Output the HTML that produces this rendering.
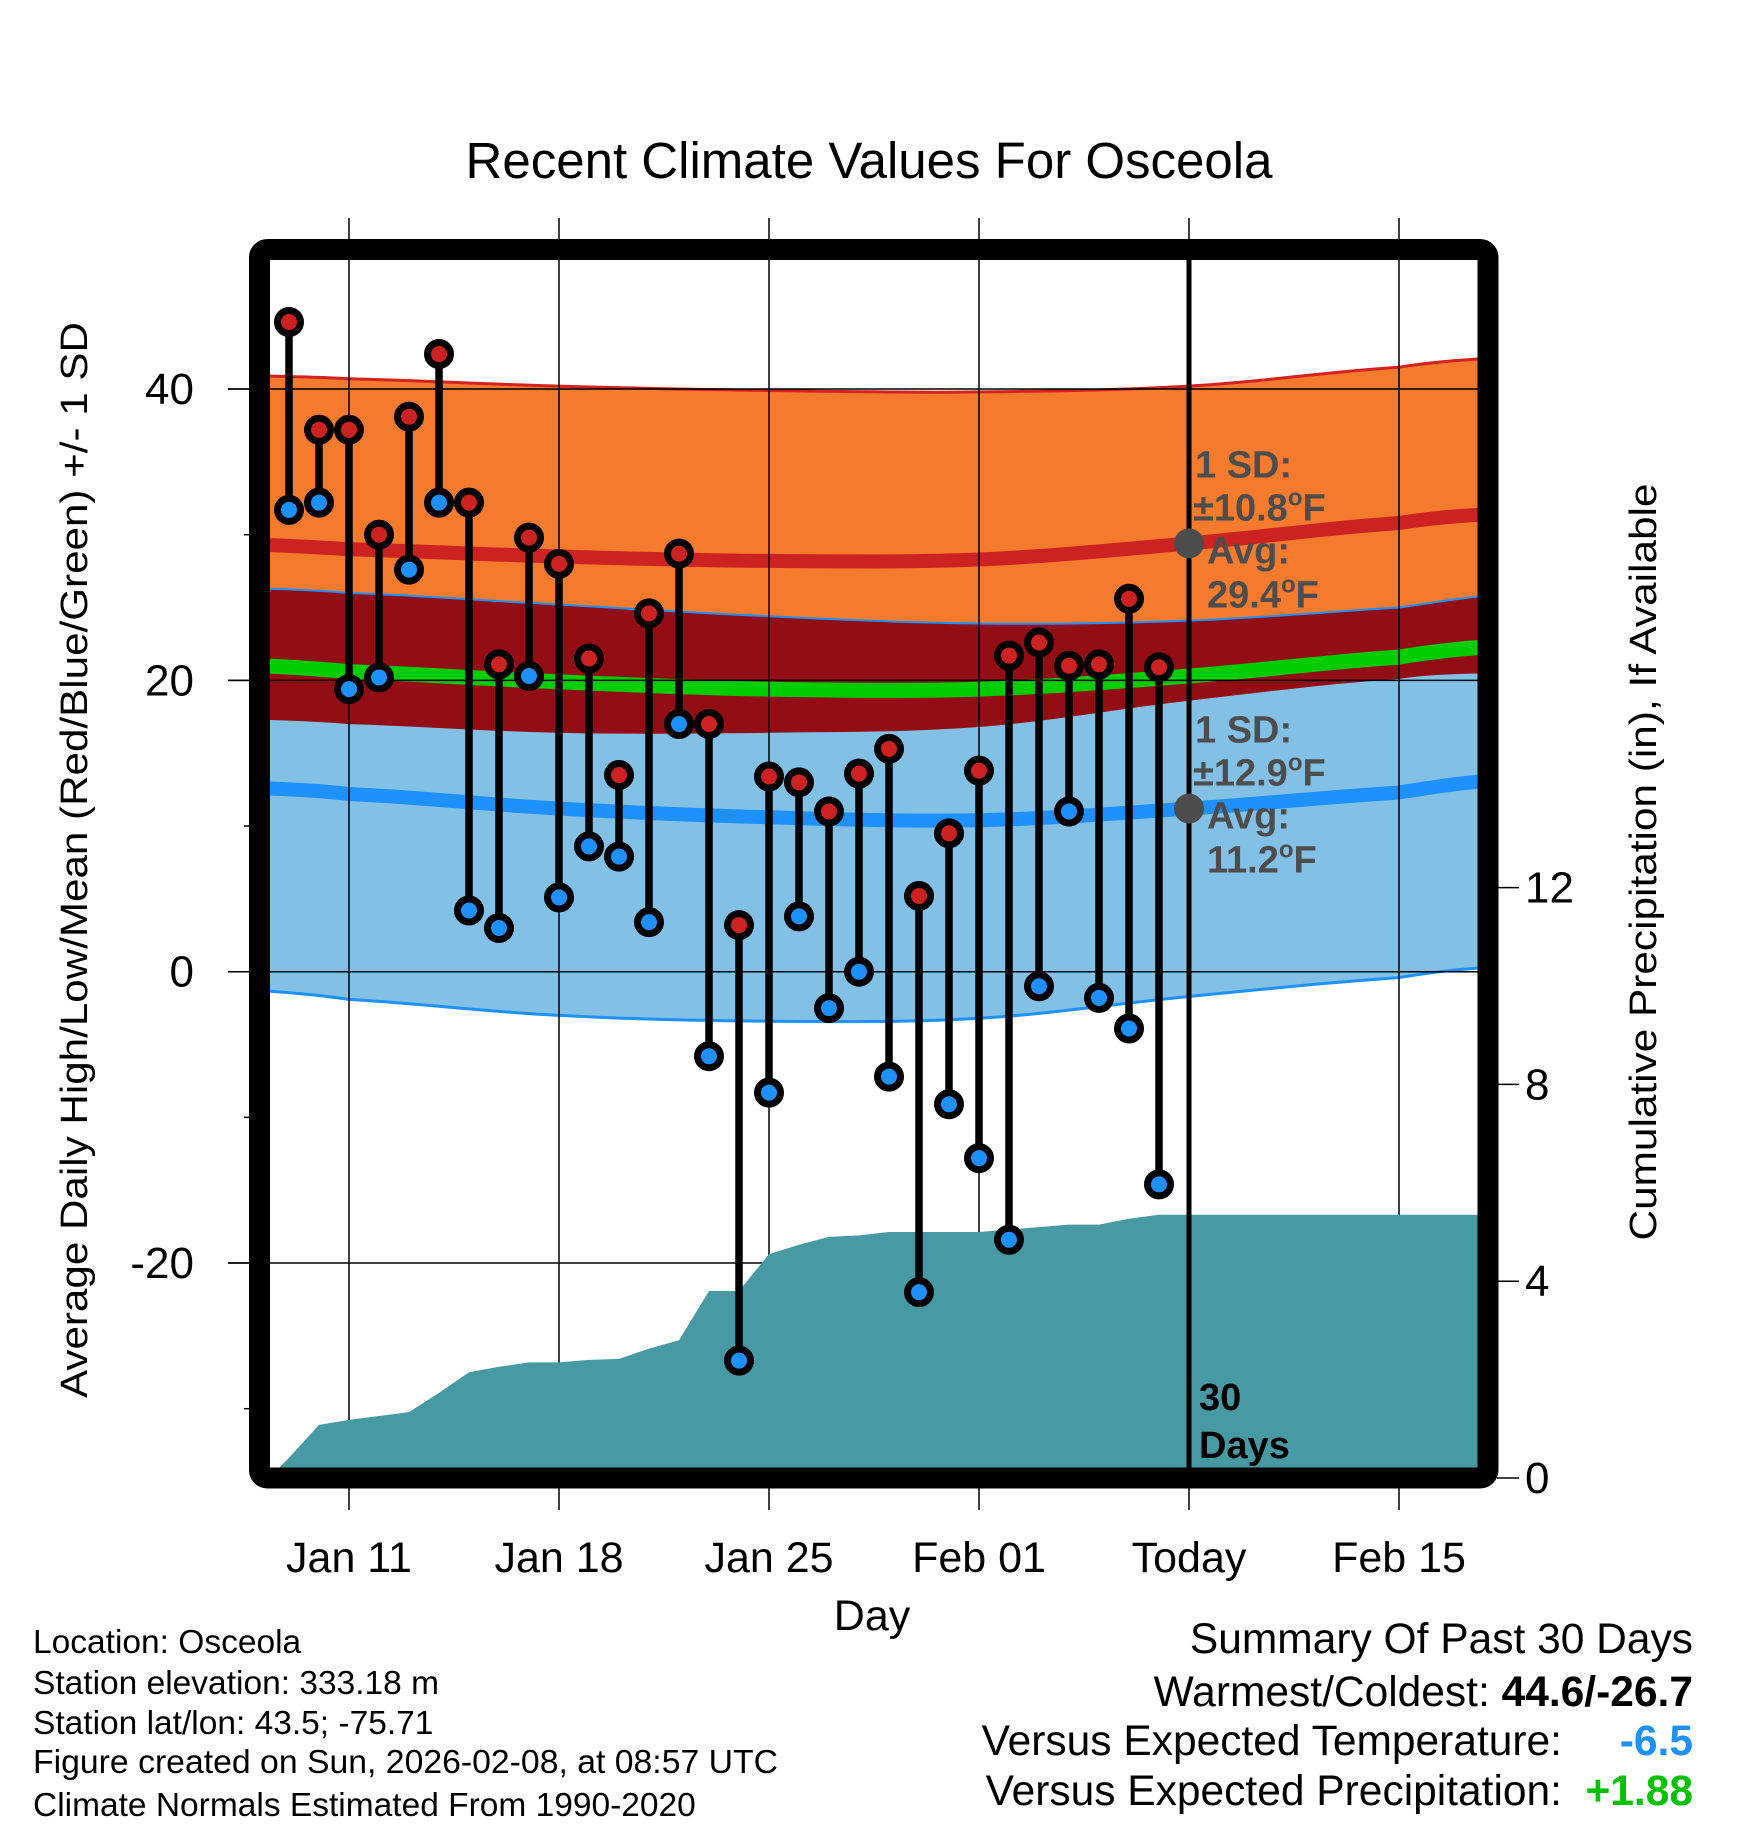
<!DOCTYPE html>
<html><head><meta charset="utf-8"><style>
html,body{margin:0;padding:0;background:#fff}
svg{display:block}
text{font-family:"Liberation Sans",sans-serif}
</style></head><body>
<svg id="chart" width="1748" height="1828" viewBox="0 0 1748 1828" xmlns="http://www.w3.org/2000/svg">
<defs><clipPath id="plotclip"><rect x="270" y="260" width="1208" height="1208"/></clipPath></defs>
<g id="bands" clip-path="url(#plotclip)"></g>
<g id="grid"></g>
<g id="precip" clip-path="url(#plotclip)"></g>
<g id="todayg"></g>
<g id="marks"></g>
<g id="annot"></g>
<rect x="259.5" y="249.5" width="1228.5" height="1228.5" rx="8" fill="none" stroke="#000" stroke-width="21"/>
<g id="axes"></g>
<text x="869" y="178" font-size="51" text-anchor="middle">Recent Climate Values For Osceola</text>
<text x="872" y="1630" font-size="43" text-anchor="middle">Day</text>
<text transform="translate(87,860) rotate(-90)" font-size="38" text-anchor="middle" textLength="1076" lengthAdjust="spacingAndGlyphs">Average Daily High/Low/Mean (Red/Blue/Green) +/- 1 SD</text>
<text transform="translate(1656,862) rotate(-90)" font-size="38" text-anchor="middle" textLength="757" lengthAdjust="spacingAndGlyphs">Cumulative Precipitation (in), If Available</text>
<g font-size="33.5">
<text x="33" y="1653">Location: Osceola</text>
<text x="33" y="1694">Station elevation: 333.18 m</text>
<text x="33" y="1734">Station lat/lon: 43.5; -75.71</text>
<text x="33" y="1773" textLength="745" lengthAdjust="spacingAndGlyphs">Figure created on Sun, 2026-02-08, at 08:57 UTC</text>
<text x="33" y="1816">Climate Normals Estimated From 1990-2020</text>
</g>
<g font-size="42.5" text-anchor="end">
<text x="1693" y="1653">Summary Of Past 30 Days</text>
<text x="1693" y="1706">Warmest/Coldest: <tspan font-weight="bold">44.6/-26.7</tspan></text>
<text x="1562" y="1755">Versus Expected Temperature:</text>
<text x="1693" y="1755" font-weight="bold" fill="#1e90ff">-6.5</text>
<text x="1562" y="1805">Versus Expected Precipitation:</text>
<text x="1693" y="1805" font-weight="bold" fill="#00c000">+1.88</text>
</g>
</svg>
<script>
// ---- data ----
const dayLabels = ["Jan 11","Jan 18","Jan 25","Feb 01","Today","Feb 15"];
const dayTicks = [0,7,14,21,28,35];
const tempTicks = [40,20,0,-20];
const tempMinor = [30,10,-10,-30];
const precipTicks = [0,4,8,12];
const obsDays = [-2,-1,0,1,2,3,4,5,6,7,8,9,10,11,12,13,14,15,16,17,18,19,20,21,22,23,24,25,26,27];
const highs = [44.6,37.2,37.2,30.0,38.1,42.4,32.2,21.1,29.8,28.0,21.5,13.5,24.6,28.7,17.0,3.2,13.4,13.0,11.0,13.6,15.3,5.2,9.5,13.8,21.7,22.6,21.0,21.1,25.6,20.9];
const lows = [31.7,32.2,19.4,20.2,27.6,32.2,4.2,3.0,20.3,5.1,8.6,7.9,3.4,17.0,-5.8,-26.7,-8.3,3.8,-2.5,0.0,-7.2,-22.0,-9.1,-12.8,-18.4,-1.0,11.0,-1.8,-3.9,-14.6];
const precipCum = [0.41,1.08,1.18,1.26,1.34,1.73,2.15,2.26,2.35,2.35,2.40,2.42,2.63,2.80,3.80,3.80,4.55,4.74,4.90,4.93,5.00,5.00,5.00,5.00,5.05,5.10,5.15,5.15,5.27,5.35];
const normDays = [-3,0,7,14,21,28,35,38];
const highUpper = [40.9,40.7,40.2,39.9,39.8,40.2,41.5,42.1];
const highMean = [29.3,29.0,28.5,28.2,28.3,29.4,30.8,31.4];
const highLower = [17.3,17.0,16.4,16.4,16.8,18.6,20.1,20.5];
const lowUpper = [26.3,26.0,25.2,24.4,23.9,24.1,25.0,25.8];
const lowMean = [12.6,12.2,11.2,10.6,10.4,11.2,12.3,13.1];
const lowLower = [-1.3,-1.9,-3.0,-3.4,-3.2,-1.7,-0.4,0.3];
const meanAvg = [21.0,20.6,19.9,19.4,19.4,20.3,21.6,22.3];
const todayDay = 28;
const todayHighAvg = 29.4, todayLowAvg = 11.2;

// ---- scales ----
const X = d => 349 + 30*d;
const Y = t => 971.7 - 14.567*t;
const YP = p => 1478 - 49.2*p;
const NS = "http://www.w3.org/2000/svg";
function mk(tag, attrs, parent){const e=document.createElementNS(NS,tag);for(const k in attrs)e.setAttribute(k,attrs[k]);parent.appendChild(e);return e;}

function curve(vals){
  const pts=[];
  for(let i=0;i<normDays.length-1;i++){
    const p0=vals[Math.max(i-1,0)],p1=vals[i],p2=vals[i+1],p3=vals[Math.min(i+2,vals.length-1)];
    const d1=normDays[i],d2=normDays[i+1];
    for(let s=0;s<10;s++){const t=s/10;
      const v=0.5*((2*p1)+(-p0+p2)*t+(2*p0-5*p1+4*p2-p3)*t*t+(-p0+3*p1-3*p2+p3)*t*t*t);
      pts.push([X(d1+(d2-d1)*t),Y(v)]);}
  }
  pts.push([X(normDays[normDays.length-1]),Y(vals[vals.length-1])]);
  return pts;
}
const ptsStr = p => p.map(q=>q[0].toFixed(1)+","+q[1].toFixed(1)).join(" ");
function band(up,lo,fill,name){
  const a=curve(up),b=curve(lo).reverse();
  const e=mk("polygon",{points:ptsStr(a.concat(b)),fill:fill},document.getElementById("bands"));
  
  
}
function line(vals,color,w,name){
  const e=mk("polyline",{points:ptsStr(curve(vals)),fill:"none",stroke:color,"stroke-width":w,"stroke-linejoin":"round"},document.getElementById("bands"));
  
  
}
band(highUpper,highLower,"#f47a2e","high-sd-band");
band(lowUpper,lowLower,"#82c0e6","low-sd-band");
band(lowUpper,highLower,"#930d14","overlap-band");
line(highUpper,"#d42222",3,"high-upper-line");
line(lowUpper,"#1e90ff",2,"low-upper-line");
line(lowLower,"#1e90ff",3,"low-lower-line");
line(highMean,"#cc2222",14,"high-mean-line");
line(lowMean,"#1e90ff",14,"low-mean-line");
line(meanAvg,"#00cc00",15,"mean-line");

// grid
const grid=document.getElementById("grid");
dayTicks.forEach((d,i)=>{
  const e=mk("line",{x1:X(d),x2:X(d),y1:218,y2:1510,stroke:"#000","stroke-width":1.5},grid);
  
  
});
tempTicks.forEach(t=>{
  const e=mk("line",{x1:228,x2:1478,y1:Y(t),y2:Y(t),stroke:"#000","stroke-width":1.5},grid);
  
  
});

// precip area
const pp=[[X(-2.4),1470]];
obsDays.forEach((d,i)=>pp.push([X(d),YP(precipCum[i])]));
pp.push([1480,YP(precipCum[precipCum.length-1])],[1480,1470]);
const pa=mk("polygon",{points:ptsStr(pp),fill:"#479aa3"},document.getElementById("precip"));



// today line (thick inside frame)
const tl=mk("line",{x1:X(todayDay),x2:X(todayDay),y1:260,y2:1468,stroke:"#000","stroke-width":5},document.getElementById("todayg"));



// marks
const marks=document.getElementById("marks");
obsDays.forEach((d,i)=>{
  const g=mk("g",{},marks);
  
  
  const s=mk("line",{x1:X(d),x2:X(d),y1:Y(highs[i]),y2:Y(lows[i]),stroke:"#000","stroke-width":7.5},g);
  
  
  const h=mk("circle",{cx:X(d),cy:Y(highs[i]),r:11.5,fill:"#cc2222",stroke:"#000","stroke-width":7},g);
  
  
  const l=mk("circle",{cx:X(d),cy:Y(lows[i]),r:11.5,fill:"#1e90ff",stroke:"#000","stroke-width":7},g);
  
  
});

// annotations
const an=document.getElementById("annot");
[[todayHighAvg,"10.8"],[todayLowAvg,"12.9"]].forEach((a,k)=>{
  const cy=Y(a[0]);
  const dot=mk("circle",{cx:X(todayDay),cy:cy,r:15,fill:"#4d4d4d"},an);
  
  
  const lines=[["1 SD:",1195,-66],["\u00b1"+a[1],1193,-23],["Avg:",1207,20],[a[0].toFixed(1),1207,64]];
  lines.forEach((L,j)=>{
    const t=mk("text",{x:L[1],y:cy+L[2],"font-size":38,"font-weight":"bold",fill:"#4d4d4d"},an);
    t.textContent=L[0];
    if(j%2===1){const o=mk("tspan",{"font-size":24,dy:-15},t);o.textContent="o";const f=mk("tspan",{dy:15},t);f.textContent="F";}
    
    
  });
});
const d1=mk("text",{x:1199,y:1410,"font-size":38,"font-weight":"bold"},an);d1.textContent="30";


const d2=mk("text",{x:1199,y:1458,"font-size":38,"font-weight":"bold"},an);d2.textContent="Days";



// axes
const ax=document.getElementById("axes");
tempTicks.forEach(t=>{
  const tk=mk("line",{x1:228,x2:250,y1:Y(t),y2:Y(t),stroke:"#000","stroke-width":1.5},ax);
  
  
  const e=mk("text",{x:194,y:Y(t)+15,"font-size":44,"text-anchor":"end"},ax);e.textContent=t;
  
  
});
tempMinor.forEach(t=>{
  const tk=mk("line",{x1:244,x2:250,y1:Y(t),y2:Y(t),stroke:"#000","stroke-width":1.5},ax);
  
  
});
precipTicks.forEach(p=>{
  const tk=mk("line",{x1:1497,x2:1519,y1:YP(p),y2:YP(p),stroke:"#000","stroke-width":1.5},ax);
  
  
  const e=mk("text",{x:1525,y:YP(p)+15,"font-size":44},ax);e.textContent=p;
  
  
});
dayTicks.forEach((d,i)=>{
  const e=mk("text",{x:X(d),y:1572,"font-size":43,"text-anchor":"middle"},ax);e.textContent=dayLabels[i];
  
  
});
</script>
</body></html>
